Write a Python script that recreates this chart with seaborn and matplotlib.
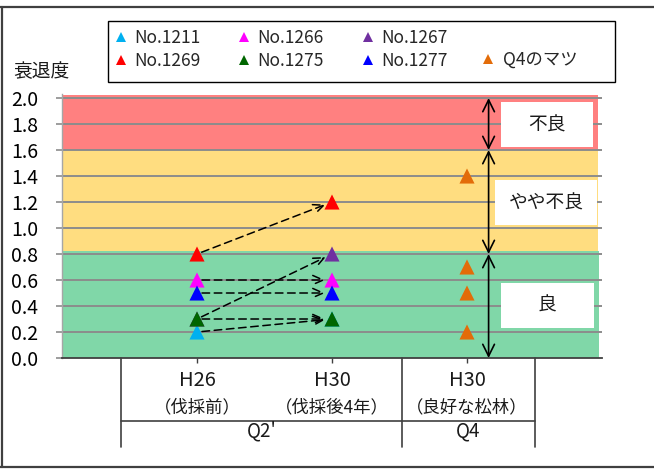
import matplotlib
matplotlib.use("Agg")
import matplotlib.pyplot as plt
from matplotlib.lines import Line2D
from matplotlib.patches import Rectangle
import matplotlib.transforms as mtransforms
import numpy as np
import pandas as pd
import seaborn as sns

# ---- data -------------------------------------------------------------
series_names = ["No.1211", "No.1266", "No.1267", "No.1269", "No.1275", "No.1277"]
h26_values = [0.2, 0.6, 0.3, 0.8, 0.3, 0.5]
h30_values = [0.3, 0.6, 0.8, 1.2, 0.3, 0.5]
q4_name = "Q4のマツ"
q4_values = [1.4, 0.7, 0.5, 0.2]

category_top = ["H26", "H30", "H30"]
category_sub = ["（伐採前）", "（伐採後4年）", "（良好な松林）"]
group_labels = ["Q2'", "Q4"]

class_labels = ["不良", "やや不良", "良"]
class_bounds = [2.0, 1.6, 0.8, 0.0]

series_colors = {
    "No.1211": "#00B0F0",
    "No.1266": "#FF00FF",
    "No.1267": "#7030A0",
    "No.1269": "#FF0000",
    "No.1275": "#006600",
    "No.1277": "#0000FF",
    q4_name: "#E36C09",
}

# ---- long-form table ---------------------------------------------------
rows = []
for name, v0, v1 in zip(series_names, h26_values, h30_values):
    rows.append({"pos": 1, "value": v0, "series": name})
    rows.append({"pos": 2, "value": v1, "series": name})
for v in q4_values:
    rows.append({"pos": 3, "value": v, "series": q4_name})
df = pd.DataFrame(rows)

# ---- figure ------------------------------------------------------------
sns.set_style("white")
plt.rcParams["font.family"] = ["Noto Sans CJK JP", "DejaVu Sans"]

W, H = 654, 469
fig = plt.figure(figsize=(W / 100, H / 100), dpi=100)
ax = fig.add_axes([62 / W, (H - 358) / H, 540 / W, (358 - 94) / H])
ax.set_xlim(0, 4)
ax.set_ylim(0, 2.031)

# coloured condition bands
ax.axhspan(1.6, 2.026, xmin=0.002, xmax=0.993, color="#FF8080", lw=0, zorder=0)
ax.axhspan(0.82, 1.6, xmin=0.002, xmax=0.993, color="#FFDD80", lw=0, zorder=0)
ax.axhspan(0.0, 0.82, xmin=0.002, xmax=0.995, color="#80D7A8", lw=0, zorder=0)

# horizontal gridlines
yt = np.round(np.arange(0, 2.01, 0.2), 1)
for y in yt[1:]:
    ax.axhline(y, color="#8C8C8C", lw=1.4, zorder=1)

# points
sns.scatterplot(data=df, x="pos", y="value", hue="series", palette=series_colors,
                marker="^", s=118, linewidth=0, legend=False, ax=ax, zorder=4)

# change arrows between the two surveys
for v0, v1 in zip(h26_values, h30_values):
    ax.annotate("", xy=(2, v1), xytext=(1, v0),
                arrowprops=dict(arrowstyle="->,head_length=0.75,head_width=0.33",
                                color="black", lw=1.1, linestyle=(0, (5, 3)),
                                shrinkA=3.6, shrinkB=5.0),
                zorder=3)

# class range arrows and labels
arrow_x = 3.16
box_specs = [(3.25, 0.68), (3.21, 0.755), (3.25, 0.69)]
box_centres = [1.795, 1.195, 0.404]
for i, lab in enumerate(class_labels):
    top, bot = class_bounds[i], class_bounds[i + 1]
    ax.annotate("", xy=(arrow_x, top), xytext=(arrow_x, bot),
                arrowprops=dict(arrowstyle="<->,head_length=0.85,head_width=0.42",
                                color="black", lw=1.2, shrinkA=0, shrinkB=0),
                zorder=5, annotation_clip=False)
    bx, bw = box_specs[i]
    cy = box_centres[i]
    ax.add_patch(Rectangle((bx, cy - 0.173), bw, 0.346, facecolor="white",
                           edgecolor="none", zorder=6))
    ax.text(bx + bw / 2, cy, lab, ha="center", va="center", fontsize=13.5,
            color="#1a1a1a", zorder=7)

# axes styling
for s in ["top", "right"]:
    ax.spines[s].set_visible(False)
ax.spines["left"].set_color("#A6A6A6")
ax.spines["left"].set_linewidth(1.0)
ax.spines["bottom"].set_color("#404040")
ax.spines["bottom"].set_linewidth(1.3)
ax.spines["bottom"].set_zorder(8)

ax.set_yticks(yt)
ax.set_yticklabels([f"{v:.1f}" for v in yt])
ax.tick_params(axis="y", direction="out", length=4, width=1.2, color="#8C8C8C",
               pad=13, labelsize=14, labelcolor="black", left=True)
ax.set_xticks([1, 2, 3])
ax.set_xticklabels([])
ax.tick_params(axis="x", direction="out", length=3.5, width=1.0, color="#404040",
               bottom=True)
ax.set_xlabel("")
ax.set_ylabel("")
ax.grid(False)

# category table under the axis
trans = mtransforms.blended_transform_factory(ax.transData, ax.transAxes)
line_kw = dict(color="#404040", lw=1.2, transform=trans, clip_on=False)
x_left, x_mid, x_right = 0.437, 2.519, 3.504
y_sep, y_bot = -0.239, -0.337
for xv in (x_left, x_mid, x_right):
    ax.add_line(Line2D([xv, xv], [0, y_bot], **line_kw))
ax.add_line(Line2D([x_left, x_right], [y_sep, y_sep], **line_kw))

for i, (t, sub) in enumerate(zip(category_top, category_sub)):
    ax.text(i + 1, -0.087, t, ha="center", va="center", fontsize=14.5,
            transform=trans, color="#1a1a1a")
    ax.text(i + 1, -0.186, sub, ha="center", va="center", fontsize=12.5,
            transform=trans, color="#1a1a1a")
ax.text((x_left + x_mid) / 2, -0.277, group_labels[0], ha="center", va="center",
        fontsize=13.5, transform=trans, color="#1a1a1a")
ax.text((x_mid + x_right) / 2, -0.277, group_labels[1], ha="center", va="center",
        fontsize=13.5, transform=trans, color="#1a1a1a")

# y axis title
fig.text(13 / W, 1 - 72 / H, "衰退度", ha="left", va="center", fontsize=13.5,
         color="#1a1a1a")

# legend
def handle(name, ms=6.5):
    return Line2D([], [], marker="^", linestyle="none", markersize=ms,
                  markerfacecolor=series_colors[name], markeredgewidth=0)

order = ["No.1211", "No.1269", "No.1266", "No.1275", "No.1267", "No.1277"]
leg1 = fig.legend([handle(n) for n in order], order, ncol=3, frameon=False,
                  loc="center left", bbox_to_anchor=(114 / W, 1 - 49.5 / H),
                  borderpad=0, borderaxespad=0, handlelength=0.8,
                  handletextpad=0.35, columnspacing=2.15, labelspacing=0.3,
                  fontsize=12.5)
leg2 = fig.legend([handle(q4_name, 7.5)], [q4_name], frameon=False,
                  loc="center left", bbox_to_anchor=(481 / W, 1 - 60 / H),
                  borderpad=0, borderaxespad=0, handlelength=0.8,
                  handletextpad=0.45, fontsize=12.5)
fig.add_artist(Rectangle((108 / W, 1 - 82 / H), 507 / W, 61 / H,
                         transform=fig.transFigure, facecolor="none",
                         edgecolor="black", lw=1.0))

# chart frame
frame_kw = dict(color="#404040", lw=1.6, transform=fig.transFigure)
fig.add_artist(Line2D([0, 1], [1 - 7 / H, 1 - 7 / H], **frame_kw))
fig.add_artist(Line2D([0, 1], [1 - 467 / H, 1 - 467 / H], **frame_kw))
fig.add_artist(Line2D([1.5 / W, 1.5 / W], [1 - 467 / H, 1 - 7 / H], **frame_kw))

fig.savefig("out.png", dpi=100)
